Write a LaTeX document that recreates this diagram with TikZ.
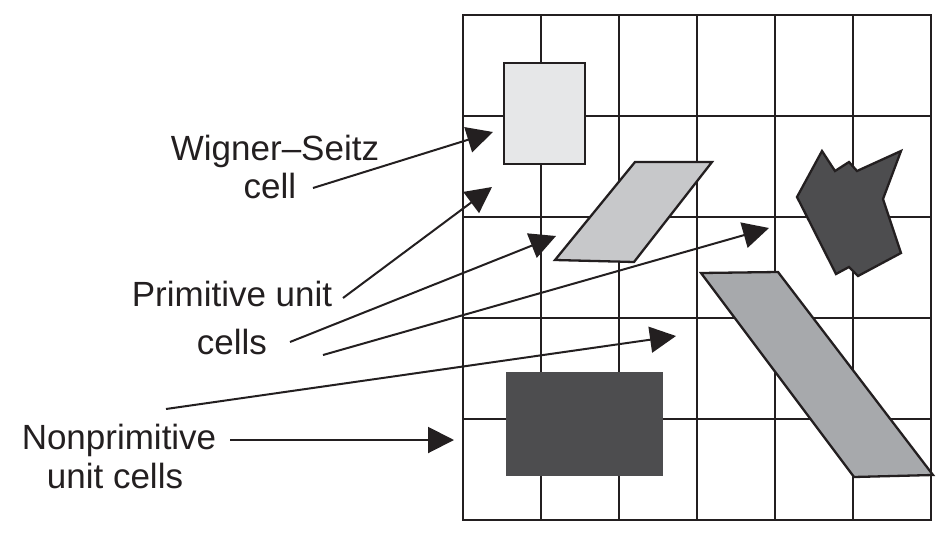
\documentclass[tikz,border=0pt]{standalone}
\usepackage{fontspec}
\setmainfont{Liberation Sans}
\usetikzlibrary{arrows.meta}
\definecolor{ink}{HTML}{231F20}
\definecolor{wsfill}{HTML}{E6E7E8}
\definecolor{primfill}{HTML}{C7C8CA}
\definecolor{darkfill}{HTML}{4D4D4F}
\definecolor{longfill}{HTML}{A7A9AC}
\begin{document}
\begin{tikzpicture}[x=1pt,y=-1pt,
  lbl/.style={font=\fontsize{35}{38}\selectfont, text=ink, inner sep=0pt, anchor=base},
  gridline/.style={draw=ink, line width=2.3pt, line cap=rect},
  cellshape/.style={draw=ink, line width=2.3pt, line join=miter},
  pointer/.style={draw=ink, line width=2pt, -{Triangle[length=26pt,width=26pt]}}]
\useasboundingbox (0,0) rectangle (945,541);
% grid
\foreach \i in {0,...,6} \draw[gridline] ({463+78*\i},15) -- ({463+78*\i},520);
\foreach \j in {0,...,5} \draw[gridline] (463,{15+101*\j}) -- (931,{15+101*\j});
% cells
\draw[cellshape, fill=wsfill] (504,63) rectangle (585,164);
\draw[cellshape, fill=primfill] (635,162) -- (712,162) -- (634,262) -- (555,260) -- cycle;
\draw[cellshape, fill=darkfill] (822,151) -- (835,171) -- (849,162) -- (857,171) -- (901,151)
  -- (883,199) -- (901,253) -- (858,276) -- (849,267) -- (836,274) -- (797,197) -- cycle;
\draw[cellshape, fill=longfill] (701,273) -- (778,272) -- (933,475) -- (854,477) -- cycle;
\fill[darkfill] (506,372) rectangle (663,476);
% labels
\node[lbl] (ws1) at (275,160) {Wigner–Seitz};
\node[lbl] (ws2) at (270,198) {cell};
\node[lbl] (pu1) at (232,306) {Primitive unit};
\node[lbl] (pu2) at (232,354) {cells};
\node[lbl] (np1) at (119,449) {Nonprimitive};
\node[lbl] (np2) at (115,488) {unit cells};
% pointer ends
\coordinate (wsS) at (313,188); \coordinate (wsT) at (493,132);
\coordinate (p1S) at (343,298); \coordinate (p1T) at (492,187);
\coordinate (p2S) at (290,342); \coordinate (p2T) at (556,236);
\coordinate (p3S) at (323,355); \coordinate (p3T) at (769,228);
\coordinate (n1S) at (166,409); \coordinate (n1T) at (676,336);
\coordinate (n2S) at (230,440); \coordinate (n2T) at (454,440);
\draw[pointer] (wsS) -- (wsT);
\draw[pointer] (p1S) -- (p1T);
\draw[pointer] (p2S) -- (p2T);
\draw[pointer] (p3S) -- (p3T);
\draw[pointer] (n1S) -- (n1T);
\draw[pointer] (n2S) -- (n2T);
\end{tikzpicture}
\end{document}
